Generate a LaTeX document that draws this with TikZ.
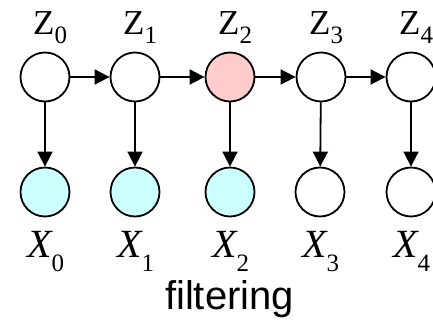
\documentclass[tikz,border=0pt]{standalone}
\usepackage{fontspec}
\setmainfont{Liberation Serif}
\newfontfamily\labelsans{Liberation Sans}
\usetikzlibrary{arrows.meta}

\definecolor{hidpink}{HTML}{FFCCCC}
\definecolor{obscyan}{HTML}{CCFFFF}

\begin{document}
\begin{tikzpicture}[x=1pt,y=-1pt,
  var/.style={circle,draw=black,line width=1.8pt,minimum size=49pt,inner sep=0pt,fill=white},
  link/.style={line width=1.8pt,-{Triangle[length=15pt,width=15pt]}},
  zlab/.style={anchor=base west,inner sep=0pt},
  xlab/.style={anchor=base west,inner sep=0pt}]
  \fill[white] (0,0) rectangle (433,320);
  \useasboundingbox (0,0) rectangle (433,320);

  % hidden chain Z_t
  \node[var] (z0) at (45,77) {};
  \node[var] (z1) at (135,77) {};
  \node[var,fill=hidpink] (z2) at (230,77) {};
  \node[var] (z3) at (321,77) {};
  \node[var] (z4) at (411,77) {};

  % observations X_t
  \node[var,fill=obscyan] (x0) at (45,192) {};
  \node[var,fill=obscyan] (x1) at (135,192) {};
  \node[var,fill=obscyan] (x2) at (230,192) {};
  \node[var] (x3) at (320,192) {};
  \node[var] (x4) at (411,192) {};

  \foreach \a/\b in {z0/z1,z1/z2,z2/z3,z3/z4}
    \draw[link] (\a) -- (\b);
  \foreach \i in {0,...,4}
    \draw[link] (z\i) -- (x\i);

  % labels
  \foreach \i/\cx in {0/45,1/135,2/230,3/321,4/411} {
    \node[zlab] (zl\i) at (\cx-12,35)
      {\fontsize{35}{35}\selectfont Z\raisebox{-9pt}{\fontsize{25}{25}\selectfont\i}};
  }
  \foreach \i/\cx in {0/45,1/135,2/230,3/320,4/411} {
    \node[xlab] (xl\i) at (\cx-18,257)
      {\fontsize{40}{40}\selectfont\itshape X\raisebox{-14pt}{\fontsize{25}{25}\selectfont\upshape\i}};
  }

  \node[anchor=base,inner sep=0pt] (cap) at (229.5,309)
    {\labelsans\fontsize{40}{40}\selectfont filtering};
\end{tikzpicture}
\end{document}
